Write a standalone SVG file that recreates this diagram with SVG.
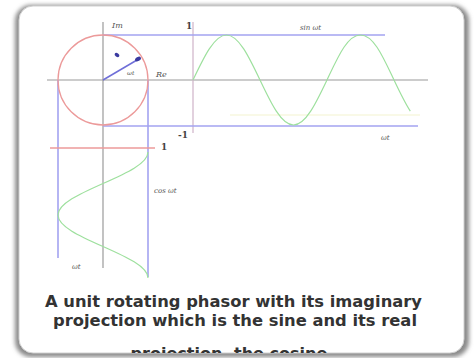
<svg xmlns="http://www.w3.org/2000/svg" width="474" height="358" viewBox="0 0 474 358">
<style>
.ax{stroke:#9a9a9a;stroke-width:1.2;fill:none}
.bl{stroke:#a3a3f0;stroke-width:1.6;fill:none}
.rd{stroke:#ec9a9a;stroke-width:1.3;fill:none}
.gr{stroke:#9ee09e;stroke-width:1.2;fill:none}
.lbl{font-family:"DejaVu Serif",serif;font-style:italic;fill:#555}
.num{font-family:"DejaVu Serif",serif;font-weight:bold;fill:#444}
.cap{font-family:"DejaVu Sans",sans-serif;font-weight:bold;font-size:15.5px;fill:#333;text-anchor:middle}
</style>
<defs>
<filter id="sh" x="-5%" y="-5%" width="110%" height="110%"><feGaussianBlur stdDeviation="2"/></filter>
<clipPath id="cardclip"><rect x="19" y="7" width="445" height="346" rx="14"/></clipPath>
</defs>
<rect width="474" height="358" fill="#fff"/>
<g id="card">
<rect x="15" y="5" width="454" height="352" rx="16" fill="#8a8a8a" filter="url(#sh)"/>
<rect x="19" y="6" width="445" height="347" rx="14" fill="#fff" stroke="#d0d0d0" stroke-width="1"/>
</g>
<g clip-path="url(#cardclip)">
<g id="axes">
<line class="ax" x1="47" y1="80" x2="428" y2="80"/>
<line class="ax" x1="103" y1="22" x2="103" y2="268"/>
<line x1="193" y1="22" x2="193" y2="133" stroke="#cfb3c8" stroke-width="1.2"/>
<line x1="230" y1="115" x2="420" y2="115" stroke="#f3f3cf" stroke-width="1"/>
</g>
<g id="connectors">
<line class="bl" x1="103" y1="35" x2="385" y2="35"/>
<line class="bl" x1="103" y1="126" x2="418" y2="126"/>
<line class="bl" x1="58" y1="80" x2="58" y2="258"/>
<line class="bl" x1="148" y1="80" x2="148" y2="277"/>
<line class="rd" x1="50" y1="148" x2="155" y2="148"/>
</g>
<g id="circle">
<circle class="rd" cx="103" cy="80" r="45"/>
</g>
<g id="phasor">
<line x1="103" y1="80" x2="137" y2="60" stroke="#6f6fd8" stroke-width="1.5"/>
<ellipse cx="138" cy="59" rx="3.2" ry="2" transform="rotate(-30 138 59)" fill="#3a3aa0"/>
<ellipse cx="117" cy="55" rx="2.6" ry="1.8" transform="rotate(35 117 55)" fill="#3a3aa0"/>
</g>
<g id="sine">
<path class="gr" d="M193,80 C203.93,56.95 214.38,35 226.5,35 S249.07,56.95 260,80 S281.38,125 293.5,125 S316.07,103.05 327,80 S347.38,35 360.5,35 S383.07,56.95 394,80 C399.47,91.53 404.81,102.78 410.3,111.1"/>
</g>
<g id="cosine">
<path class="gr" d="M148,152 C148,163.4 126.05,173.23 103,183.5 S58,203.6 58,215 S79.95,236.23 103,246.5 S148,266.6 148,278"/>
</g>
<g id="labels">
<text class="lbl" x="112" y="28" font-size="8">Im</text>
<text class="num" x="186" y="29" font-size="9">1</text>
<text class="lbl" x="156" y="77" font-size="8">Re</text>
<text class="lbl" x="127" y="75" font-size="6">ωt</text>
<text class="num" x="178" y="138" font-size="9">-1</text>
<text class="num" x="161" y="150" font-size="9">1</text>
<text class="lbl" x="300" y="30" font-size="7">sin ωt</text>
<text class="lbl" x="381" y="140" font-size="7">ωt</text>
<text class="lbl" x="154" y="193" font-size="7">cos ωt</text>
<text class="lbl" x="72" y="269" font-size="7">ωt</text>
</g>
<g id="caption">
<text class="cap" x="233.5" y="307" textLength="377" lengthAdjust="spacingAndGlyphs">A unit rotating phasor with its imaginary</text>
<text class="cap" x="235" y="326" textLength="364" lengthAdjust="spacingAndGlyphs">projection which is the sine and its real</text>
<text class="cap" x="232" y="359" textLength="203" lengthAdjust="spacingAndGlyphs">projection, the cosine.</text>
</g>
</g>
</svg>
